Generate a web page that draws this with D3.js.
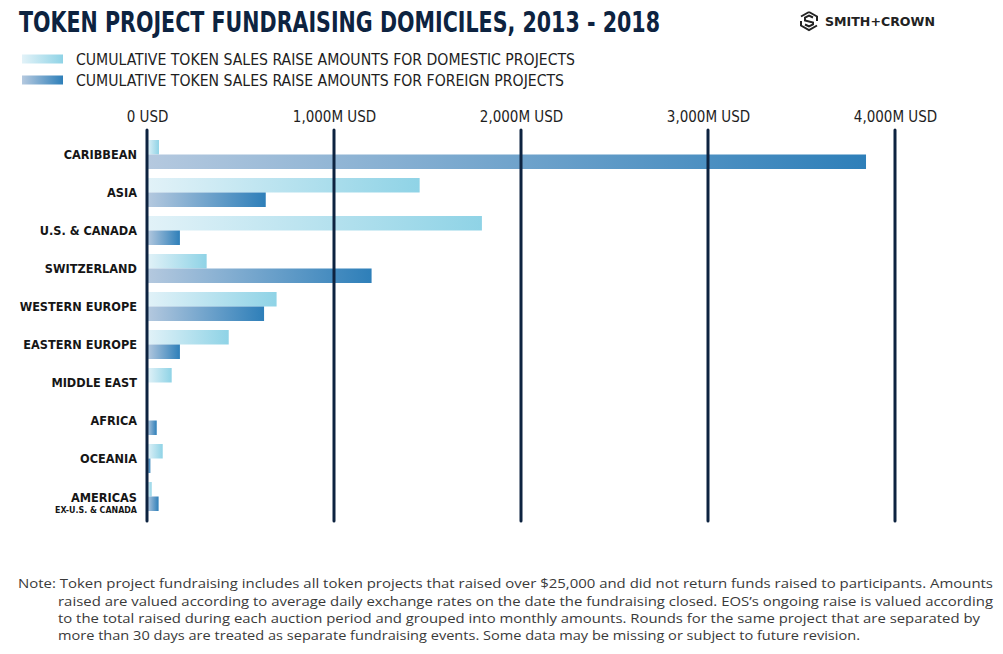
<!DOCTYPE html>
<html>
<head>
<meta charset="utf-8">
<script src="https://cdn.jsdelivr.net/npm/d3@7"></script>
<style>
  html, body { margin: 0; padding: 0; background: #fff; }
  svg { display: block; }
</style>
</head>
<body>
<svg id="chart" width="1003" height="654"></svg>
<script>
// ---- data ----
const categories = ["CARIBBEAN", "ASIA", "U.S. & CANADA", "SWITZERLAND", "WESTERN EUROPE",
  "EASTERN EUROPE", "MIDDLE EAST", "AFRICA", "OCEANIA", "AMERICAS"];
const domestic = [64, 1458, 1791, 319, 693, 437, 132, 0, 84, 25];   // million USD
const foreign  = [3845, 635, 176, 1201, 626, 176, 0, 52, 18, 62];   // million USD
const tickValues = [0, 1000, 2000, 3000, 4000];
const tickLabels = ["0 USD", "1,000M USD", "2,000M USD", "3,000M USD", "4,000M USD"];
const seriesNames = ["CUMULATIVE TOKEN SALES RAISE AMOUNTS FOR DOMESTIC PROJECTS",
  "CUMULATIVE TOKEN SALES RAISE AMOUNTS FOR FOREIGN PROJECTS"];
const noteLines = [
  "Note: Token project fundraising includes all token projects that raised over $25,000 and did not return funds raised to participants. Amounts",
  "raised are valued according to average daily exchange rates on the date the fundraising closed. EOS\u2019s ongoing raise is valued according",
  "to the total raised during each auction period and grouped into monthly amounts. Rounds for the same project that are separated by",
  "more than 30 days are treated as separate fundraising events. Some data may be missing or subject to future revision."
];

// ---- setup ----
const svg = d3.select("#chart");
const condensed = "'DejaVu Sans Condensed', 'Liberation Sans Narrow', 'DejaVu Sans', sans-serif";
const navy = "#0d2340";

const defs = svg.append("defs");
function grad(id, c0, c1) {
  const g = defs.append("linearGradient").attr("id", id)
    .attr("x1", "0%").attr("x2", "100%").attr("y1", "0%").attr("y2", "0%");
  g.append("stop").attr("offset", "0%").attr("stop-color", c0);
  g.append("stop").attr("offset", "100%").attr("stop-color", c1);
}
grad("gDom", "#e2f2f8", "#8fd3e6");
grad("gFor", "#b5c9df", "#2e7fb9");

const x = d3.scaleLinear().domain([0, 4000]).range([147, 895]);
const y = d3.scaleBand().domain(categories).range([140, 511]).paddingInner(0.237).paddingOuter(0);
const sub = d3.scaleBand().domain(["domestic", "foreign"]).range([0, y.bandwidth()]);

const rows = categories.map((c, i) => ({ cat: c, domestic: domestic[i], foreign: foreign[i] }));

// ---- title ----
svg.append("text").attr("x", 19).attr("y", 32)
  .attr("font-family", condensed).attr("font-weight", 900).attr("font-size", 28)
  .attr("fill", navy).attr("textLength", 641).attr("lengthAdjust", "spacingAndGlyphs")
  .text("TOKEN PROJECT FUNDRAISING DOMICILES, 2013 - 2018");

// ---- logo ----
const logo = svg.append("g").attr("transform", "translate(809,21)");
logo.append("path")
  .attr("d", "M0,-9 L8,-4.5 L8,0 M8,4.5 L0,9 L-8,4.5 L-8,0 M-8,-4.5 L0,-9")
  .attr("fill", "none").attr("stroke", "#222").attr("stroke-width", 2);
logo.append("path")
  .attr("d", "M4,-3.5 L0,-5.5 L-4,-3.5 L-4,-0.5 L4,1.5 L4,3.5 L0,5.5 L-4,3.5")
  .attr("fill", "none").attr("stroke", "#222").attr("stroke-width", 2);
svg.append("text").attr("x", 825).attr("y", 26)
  .attr("font-family", "'DejaVu Sans', sans-serif").attr("font-weight", "bold").attr("font-size", 13)
  .attr("fill", "#222").attr("textLength", 110).attr("lengthAdjust", "spacingAndGlyphs")
  .text("SMITH+CROWN");

// ---- legend ----
const legend = svg.append("g");
const legendY = [59, 80];
const legendW = [499, 488];
["gDom", "gFor"].forEach((g, i) => {
  legend.append("rect").attr("x", 22).attr("y", legendY[i] - 4.5).attr("width", 41).attr("height", 9)
    .attr("fill", `url(#${g})`);
  legend.append("text").attr("x", 76).attr("y", legendY[i] + 5.5)
    .attr("font-family", condensed).attr("font-size", 15).attr("fill", "#1e1e1e")
    .attr("textLength", legendW[i]).attr("lengthAdjust", "spacingAndGlyphs")
    .text(seriesNames[i]);
});

// ---- bars ----
const barG = svg.append("g");
barG.selectAll("rect.dom").data(rows.filter(d => d.domestic > 0)).join("rect")
  .attr("class", "dom")
  .attr("x", x(0)).attr("y", d => y(d.cat) + sub("domestic"))
  .attr("width", d => x(d.domestic) - x(0)).attr("height", sub.bandwidth())
  .attr("fill", "url(#gDom)");
barG.selectAll("rect.for").data(rows.filter(d => d.foreign > 0)).join("rect")
  .attr("class", "for")
  .attr("x", x(0)).attr("y", d => y(d.cat) + sub("foreign"))
  .attr("width", d => x(d.foreign) - x(0)).attr("height", sub.bandwidth())
  .attr("fill", "url(#gFor)");

// ---- grid lines (drawn over bars) and tick labels ----
const axisG = svg.append("g").attr("transform", "translate(0,117)")
  .call(d3.axisTop(x).tickValues(tickValues).tickSize(0).tickPadding(0)
    .tickFormat((d, i) => tickLabels[i]));
axisG.select(".domain").remove();
axisG.selectAll("text")
  .attr("font-family", condensed).attr("font-size", 15).attr("fill", "#1e1e1e")
  .attr("dy", "0.36em").attr("y", 0);

svg.append("g").selectAll("line").data(tickValues).join("line")
  .attr("x1", d => x(d)).attr("x2", d => x(d))
  .attr("y1", 130).attr("y2", 521)
  .attr("stroke", navy).attr("stroke-width", 3).attr("stroke-linecap", "round");

// ---- category labels ----
const labG = svg.append("g");
rows.forEach(d => {
  const cy = y(d.cat) + y.bandwidth() / 2;
  if (d.cat === "AMERICAS") {
    labG.append("text").attr("x", 137).attr("y", cy + 5)
      .attr("text-anchor", "end").attr("font-family", condensed).attr("font-weight", "bold")
      .attr("font-size", 12.6).attr("fill", "#161616").text("AMERICAS");
    labG.append("text").attr("x", 137).attr("y", cy + 16)
      .attr("text-anchor", "end").attr("font-family", condensed).attr("font-weight", "bold")
      .attr("font-size", 8.8).attr("fill", "#161616").text("EX-U.S. & CANADA");
  } else {
    labG.append("text").attr("x", 137).attr("y", cy).attr("dy", "0.36em")
      .attr("text-anchor", "end").attr("font-family", condensed).attr("font-weight", "bold")
      .attr("font-size", 12.6).attr("fill", "#161616").text(d.cat);
  }
});

// ---- note ----
const noteX = [18, 58, 58, 58];
const noteY = [588, 606, 623, 640];
const noteW = [975, 935, 922, 802];
noteLines.forEach((t, i) => {
  svg.append("text").attr("x", noteX[i]).attr("y", noteY[i])
    .attr("font-family", "'Open Sans', 'Liberation Sans', sans-serif").attr("font-size", 13)
    .attr("fill", "#3a3a3a").attr("textLength", noteW[i]).attr("lengthAdjust", "spacingAndGlyphs")
    .text(t);
});
</script>
</body>
</html>
